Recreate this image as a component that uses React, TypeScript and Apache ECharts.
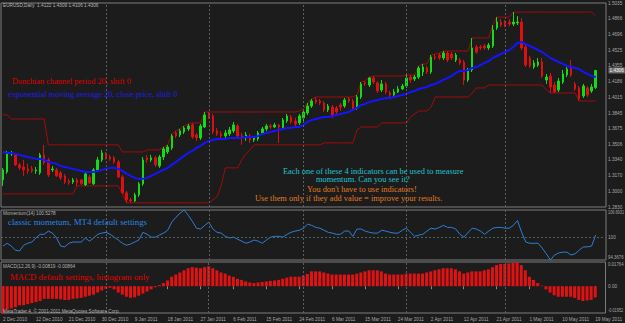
import React, { useEffect, useRef } from "react";
import * as echarts from "echarts";

const dateLabels = ["2 Dec 2010", "12 Dec 2010", "21 Dec 2010", "30 Dec 2010", "9 Jan 2011", "18 Jan 2011", "27 Jan 2011", "6 Feb 2011", "15 Feb 2011", "24 Feb 2011", "6 Mar 2011", "15 Mar 2011", "24 Mar 2011", "2 Apr 2011", "12 Apr 2011", "21 Apr 2011", "1 May 2011", "10 May 2011", "19 May 2011"];
const priceTicks = ["1.5035", "1.4866", "1.4696", "1.4525", "1.4355", "1.4186", "1.4015", "1.3845", "1.3675", "1.3506", "1.3340", "1.3170", "1.3000", "1.2830"];
const lastPrice = 1.4306;
const momentumTicks = ["106.6931", "100", "94.3676"];
const macdTicks = ["0.01764", "0.00", "-0.01952"];
const gridLineBars = [25, 50, 73, 98, 122];

// [open, close, low, high]
const candles: number[][] = [
  [1.3123, 1.3231, 1.3058, 1.3253], [1.3209, 1.3404, 1.3188, 1.3436], [1.3404, 1.3415, 1.3382, 1.3436], [1.3393, 1.3285, 1.3274, 1.3415],
  [1.3285, 1.3253, 1.3231, 1.3307], [1.3263, 1.3231, 1.3166, 1.3339], [1.3242, 1.3220, 1.3188, 1.3296], [1.3242, 1.3220, 1.3199, 1.3274],
  [1.3220, 1.3231, 1.3188, 1.3263], [1.3199, 1.3393, 1.3177, 1.3415], [1.3393, 1.3307, 1.3285, 1.3501], [1.3339, 1.3177, 1.3155, 1.3361],
  [1.3231, 1.3242, 1.3209, 1.3274], [1.3231, 1.3166, 1.3155, 1.3253], [1.3199, 1.3145, 1.3123, 1.3220], [1.3166, 1.3101, 1.3080, 1.3188],
  [1.3112, 1.3091, 1.3069, 1.3134], [1.3101, 1.3123, 1.3080, 1.3145], [1.3123, 1.3091, 1.3058, 1.3145], [1.3123, 1.3080, 1.3069, 1.3134],
  [1.3069, 1.3188, 1.3058, 1.3209], [1.3155, 1.3091, 1.3080, 1.3177], [1.3080, 1.3231, 1.3069, 1.3253], [1.3231, 1.3339, 1.3209, 1.3371],
  [1.3339, 1.3415, 1.3317, 1.3447], [1.3393, 1.3361, 1.3339, 1.3425], [1.3371, 1.3350, 1.3328, 1.3393], [1.3361, 1.3317, 1.3296, 1.3382],
  [1.3317, 1.3155, 1.3145, 1.3339], [1.3155, 1.2983, 1.2972, 1.3177], [1.2983, 1.2907, 1.2875, 1.3004], [1.2907, 1.2896, 1.2875, 1.2929],
  [1.2896, 1.2961, 1.2885, 1.2983], [1.2961, 1.3080, 1.2939, 1.3101], [1.3080, 1.3339, 1.3058, 1.3371], [1.3361, 1.3339, 1.3307, 1.3393],
  [1.3339, 1.3361, 1.3317, 1.3393], [1.3361, 1.3285, 1.3263, 1.3382], [1.3274, 1.3371, 1.3253, 1.3393], [1.3371, 1.3458, 1.3339, 1.3479],
  [1.3425, 1.3479, 1.3404, 1.3501], [1.3469, 1.3598, 1.3447, 1.3620], [1.3631, 1.3598, 1.3577, 1.3652], [1.3609, 1.3652, 1.3587, 1.3674],
  [1.3641, 1.3685, 1.3620, 1.3706], [1.3674, 1.3706, 1.3652, 1.3728], [1.3717, 1.3587, 1.3566, 1.3739], [1.3609, 1.3577, 1.3544, 1.3631],
  [1.3577, 1.3706, 1.3555, 1.3728], [1.3695, 1.3825, 1.3685, 1.3857], [1.3825, 1.3803, 1.3782, 1.3857], [1.3814, 1.3641, 1.3620, 1.3836],
  [1.3652, 1.3620, 1.3598, 1.3685], [1.3620, 1.3598, 1.3566, 1.3652], [1.3598, 1.3631, 1.3577, 1.3663], [1.3620, 1.3663, 1.3598, 1.3695],
  [1.3652, 1.3717, 1.3631, 1.3749], [1.3706, 1.3598, 1.3577, 1.3728], [1.3598, 1.3577, 1.3501, 1.3631], [1.3577, 1.3609, 1.3544, 1.3641],
  [1.3598, 1.3555, 1.3523, 1.3620], [1.3555, 1.3577, 1.3533, 1.3598], [1.3566, 1.3631, 1.3544, 1.3652], [1.3631, 1.3674, 1.3609, 1.3695],
  [1.3674, 1.3706, 1.3652, 1.3728], [1.3706, 1.3695, 1.3674, 1.3728], [1.3695, 1.3717, 1.3685, 1.3739], [1.3717, 1.3695, 1.3523, 1.3728],
  [1.3685, 1.3771, 1.3663, 1.3793], [1.3760, 1.3814, 1.3739, 1.3836], [1.3803, 1.3749, 1.3728, 1.3825], [1.3760, 1.3728, 1.3706, 1.3793],
  [1.3739, 1.3814, 1.3717, 1.3836], [1.3793, 1.3857, 1.3760, 1.3890], [1.3847, 1.3922, 1.3825, 1.3955], [1.3922, 1.3976, 1.3901, 1.3998],
  [1.3987, 1.3965, 1.3944, 1.4019], [1.3976, 1.3955, 1.3933, 1.3998], [1.3955, 1.3879, 1.3857, 1.3976], [1.3879, 1.3922, 1.3857, 1.3944],
  [1.3911, 1.3814, 1.3793, 1.3933], [1.3901, 1.3857, 1.3836, 1.3922], [1.3933, 1.3911, 1.3868, 1.3955], [1.3922, 1.3987, 1.3901, 1.4009],
  [1.3998, 1.3976, 1.3955, 1.4019], [1.3976, 1.3890, 1.3868, 1.3998], [1.3901, 1.4019, 1.3879, 1.4041], [1.4019, 1.4160, 1.3998, 1.4181],
  [1.4171, 1.4160, 1.4138, 1.4192], [1.4149, 1.4225, 1.4127, 1.4235], [1.4225, 1.4181, 1.4160, 1.4246], [1.4171, 1.4084, 1.4063, 1.4192],
  [1.4095, 1.4160, 1.4073, 1.4203], [1.4160, 1.4073, 1.4052, 1.4181], [1.4063, 1.4041, 1.4019, 1.4084], [1.4041, 1.4073, 1.4019, 1.4106],
  [1.4073, 1.4106, 1.4063, 1.4138], [1.4106, 1.4138, 1.4095, 1.4160], [1.4138, 1.4225, 1.4117, 1.4257], [1.4235, 1.4203, 1.4171, 1.4257],
  [1.4214, 1.4235, 1.4192, 1.4257], [1.4235, 1.4333, 1.4214, 1.4354], [1.4289, 1.4343, 1.4246, 1.4376], [1.4333, 1.4289, 1.4268, 1.4354],
  [1.4289, 1.4451, 1.4268, 1.4473], [1.4451, 1.4441, 1.4419, 1.4484], [1.4473, 1.4441, 1.4419, 1.4495], [1.4441, 1.4495, 1.4419, 1.4516],
  [1.4495, 1.4419, 1.4397, 1.4516], [1.4484, 1.4441, 1.4419, 1.4505], [1.4419, 1.4473, 1.4397, 1.4495], [1.4419, 1.4387, 1.4365, 1.4441],
  [1.4397, 1.4203, 1.4149, 1.4419], [1.4203, 1.4311, 1.4181, 1.4333], [1.4311, 1.4549, 1.4289, 1.4657], [1.4559, 1.4505, 1.4484, 1.4581],
  [1.4559, 1.4549, 1.4527, 1.4581], [1.4570, 1.4549, 1.4527, 1.4592], [1.4549, 1.4581, 1.4527, 1.4603], [1.4570, 1.4743, 1.4549, 1.4797],
  [1.4765, 1.4829, 1.4743, 1.4883], [1.4829, 1.4797, 1.4775, 1.4862], [1.4819, 1.4797, 1.4775, 1.4851], [1.4829, 1.4808, 1.4786, 1.4862],
  [1.4808, 1.4829, 1.4786, 1.4937], [1.4819, 1.4829, 1.4797, 1.4894], [1.4829, 1.4549, 1.4527, 1.4873], [1.4559, 1.4365, 1.4343, 1.4581],
  [1.4441, 1.4354, 1.4333, 1.4462], [1.4343, 1.4387, 1.4322, 1.4419], [1.4365, 1.4397, 1.4343, 1.4441], [1.4397, 1.4246, 1.4225, 1.4441],
  [1.4203, 1.4235, 1.4160, 1.4268], [1.4246, 1.4127, 1.4063, 1.4279], [1.4149, 1.4073, 1.4063, 1.4181], [1.4095, 1.4192, 1.4073, 1.4225],
  [1.4181, 1.4268, 1.4160, 1.4311], [1.4257, 1.4322, 1.4235, 1.4354], [1.4333, 1.4257, 1.4235, 1.4419], [1.4160, 1.4106, 1.4084, 1.4181],
  [1.4117, 1.3998, 1.3976, 1.4138], [1.4030, 1.4138, 1.4009, 1.4160], [1.4117, 1.4041, 1.4019, 1.4138], [1.4084, 1.4127, 1.4063, 1.4160],
  [1.4122, 1.4306, 1.4106, 1.4309],
];

const donchianUpper = [
  1.3825, 1.3825, 1.3782, 1.3782, 1.3782, 1.3782, 1.3782, 1.3782, 1.3782, 1.3782,
  1.3782, 1.3501, 1.3501, 1.3501, 1.3501, 1.3501, 1.3501, 1.3501, 1.3501, 1.3501,
  1.3501, 1.3501, 1.3501, 1.3501, 1.3501, 1.3501, 1.3501, 1.3501, 1.3501, 1.3425,
  1.3425, 1.3425, 1.3425, 1.3425, 1.3425, 1.3447, 1.3447, 1.3447, 1.3447, 1.3479,
  1.3501, 1.3620, 1.3652, 1.3674, 1.3706, 1.3728, 1.3739, 1.3739, 1.3739, 1.3857,
  1.3857, 1.3857, 1.3857, 1.3857, 1.3857, 1.3857, 1.3857, 1.3857, 1.3857, 1.3857,
  1.3857, 1.3857, 1.3857, 1.3857, 1.3857, 1.3857, 1.3857, 1.3857, 1.3857, 1.3857,
  1.3857, 1.3857, 1.3868, 1.3890, 1.3955, 1.3998, 1.4019, 1.4019, 1.4019, 1.4019,
  1.4019, 1.4019, 1.4019, 1.4019, 1.4019, 1.4019, 1.4041, 1.4181, 1.4192, 1.4235,
  1.4246, 1.4246, 1.4246, 1.4246, 1.4246, 1.4246, 1.4246, 1.4246, 1.4257, 1.4257,
  1.4257, 1.4354, 1.4376, 1.4376, 1.4473, 1.4484, 1.4495, 1.4516, 1.4516, 1.4516,
  1.4516, 1.4516, 1.4516, 1.4516, 1.4657, 1.4657, 1.4657, 1.4657, 1.4657, 1.4797,
  1.4883, 1.4883, 1.4883, 1.4883, 1.4937, 1.4937, 1.4937, 1.4937, 1.4937, 1.4937,
  1.4937, 1.4937, 1.4937, 1.4937, 1.4937, 1.4937, 1.4937, 1.4937, 1.4937, 1.4937,
  1.4937, 1.4937, 1.4937, 1.4937, 1.4894,
];

const donchianLower = [
  1.2972, 1.2972, 1.2972, 1.2972, 1.2972, 1.2972, 1.2972, 1.2972, 1.2972, 1.2972,
  1.2972, 1.2972, 1.2972, 1.2972, 1.2972, 1.2972, 1.2972, 1.2972, 1.3058, 1.3058,
  1.3058, 1.3058, 1.3058, 1.3058, 1.3058, 1.3058, 1.3058, 1.3058, 1.3058, 1.2972,
  1.2875, 1.2875, 1.2875, 1.2875, 1.2875, 1.2875, 1.2875, 1.2875, 1.2875, 1.2875,
  1.2875, 1.2875, 1.2875, 1.2875, 1.2875, 1.2875, 1.2875, 1.2875, 1.2875, 1.2875,
  1.2875, 1.2907, 1.2939, 1.3058, 1.3253, 1.3253, 1.3253, 1.3253, 1.3339, 1.3404,
  1.3447, 1.3501, 1.3501, 1.3501, 1.3501, 1.3501, 1.3501, 1.3501, 1.3501, 1.3501,
  1.3501, 1.3501, 1.3501, 1.3501, 1.3501, 1.3501, 1.3501, 1.3501, 1.3523, 1.3523,
  1.3523, 1.3523, 1.3523, 1.3523, 1.3523, 1.3523, 1.3663, 1.3695, 1.3695, 1.3695,
  1.3695, 1.3695, 1.3739, 1.3739, 1.3739, 1.3739, 1.3739, 1.3739, 1.3739, 1.3803,
  1.3836, 1.3868, 1.3868, 1.3868, 1.3911, 1.4019, 1.4019, 1.4019, 1.4019, 1.4019,
  1.4019, 1.4019, 1.4019, 1.4019, 1.4063, 1.4117, 1.4117, 1.4117, 1.4149, 1.4149,
  1.4149, 1.4149, 1.4149, 1.4149, 1.4149, 1.4149, 1.4149, 1.4149, 1.4149, 1.4149,
  1.4149, 1.4149, 1.4095, 1.4063, 1.4063, 1.4063, 1.4063, 1.4063, 1.4063, 1.4063,
  1.3976, 1.3976, 1.3976, 1.3976, 1.3976,
];

const ema20 = [
  1.3425, 1.3415, 1.3415, 1.3404, 1.3393, 1.3382, 1.3371, 1.3361, 1.3350, 1.3350,
  1.3339, 1.3317, 1.3307, 1.3296, 1.3274, 1.3263, 1.3253, 1.3242, 1.3231, 1.3220,
  1.3209, 1.3209, 1.3209, 1.3220, 1.3231, 1.3242, 1.3253, 1.3253, 1.3242, 1.3220,
  1.3188, 1.3166, 1.3145, 1.3134, 1.3134, 1.3145, 1.3166, 1.3188, 1.3209, 1.3231,
  1.3253, 1.3285, 1.3317, 1.3350, 1.3382, 1.3415, 1.3436, 1.3469, 1.3490, 1.3523,
  1.3544, 1.3555, 1.3566, 1.3566, 1.3566, 1.3577, 1.3577, 1.3577, 1.3577, 1.3587,
  1.3587, 1.3587, 1.3598, 1.3620, 1.3631, 1.3641, 1.3652, 1.3663, 1.3674, 1.3685,
  1.3685, 1.3695, 1.3695, 1.3717, 1.3749, 1.3771, 1.3782, 1.3793, 1.3803, 1.3803,
  1.3814, 1.3825, 1.3836, 1.3847, 1.3857, 1.3879, 1.3901, 1.3933, 1.3944, 1.3965,
  1.3976, 1.3987, 1.3998, 1.4009, 1.4009, 1.4019, 1.4030, 1.4041, 1.4052, 1.4073,
  1.4084, 1.4106, 1.4117, 1.4127, 1.4149, 1.4160, 1.4181, 1.4203, 1.4225, 1.4246,
  1.4279, 1.4300, 1.4300, 1.4311, 1.4333, 1.4343, 1.4365, 1.4387, 1.4408, 1.4441,
  1.4462, 1.4484, 1.4505, 1.4527, 1.4559, 1.4603, 1.4613, 1.4592, 1.4570, 1.4549,
  1.4527, 1.4505, 1.4473, 1.4441, 1.4419, 1.4397, 1.4376, 1.4354, 1.4343, 1.4333,
  1.4322, 1.4289, 1.4268, 1.4246, 1.4235,
];

const momentum14 = [
  97.8, 98.5, 97.8, 96.8, 96.6, 98.0, 98.5, 98.8, 99.8, 100.7,
  100.7, 101.5, 101.0, 99.8, 97.8, 97.6, 98.5, 98.8, 98.8, 98.8,
  99.8, 99.0, 99.8, 100.7, 101.0, 101.2, 100.7, 100.0, 99.3, 98.5,
  98.0, 98.3, 98.8, 99.3, 101.2, 100.7, 100.0, 100.0, 100.5, 101.0,
  101.7, 103.7, 104.9, 105.9, 106.6931, 105.4, 103.9, 102.2, 102.0, 102.9,
  103.7, 102.0, 101.2, 101.0, 100.2, 99.8, 100.0, 99.5, 99.0, 98.5,
  98.8, 99.3, 99.0, 98.5, 99.3, 100.0, 100.2, 100.2, 100.0, 100.7,
  101.2, 101.5, 101.7, 102.2, 103.2, 102.9, 102.4, 102.2, 101.7, 101.2,
  101.0, 100.7, 100.7, 101.5, 101.5, 100.2, 102.0, 102.0, 101.5, 101.2,
  101.0, 101.0, 101.7, 101.5, 101.2, 101.0, 101.0, 101.7, 102.2, 101.2,
  100.2, 100.5, 100.7, 101.5, 102.2, 102.0, 102.4, 102.9, 102.4, 102.4,
  102.0, 100.7, 100.0, 101.2, 102.2, 102.0, 101.5, 100.7, 101.5, 102.2,
  102.4, 102.4, 102.2, 102.2, 102.9, 104.1, 101.2, 98.8, 98.5, 98.5,
  98.5, 97.3, 95.9, 94.3676, 95.6, 96.1, 96.3, 96.3, 95.6, 95.9,
  96.8, 97.6, 97.6, 97.8, 100.5278,
];

const macdHist = [
  -0.01952, -0.0170, -0.0162, -0.0154, -0.0139, -0.0139, -0.0131, -0.0123, -0.0116, -0.0108,
  -0.0092, -0.0092, -0.0092, -0.0092, -0.0096, -0.0100, -0.0100, -0.0092, -0.0089, -0.0085,
  -0.0077, -0.0069, -0.0062, -0.0046, -0.0031, -0.0019, -0.0012, -0.0023, -0.0046, -0.0062,
  -0.0077, -0.0085, -0.0081, -0.0069, -0.0054, -0.0039, -0.0023, -0.0008, 0.0008, 0.0023,
  0.0042, 0.0069, 0.0085, 0.0100, 0.0116, 0.0131, 0.0139, 0.0135, 0.0131, 0.0139,
  0.0146, 0.0131, 0.0116, 0.0100, 0.0092, 0.0077, 0.0069, 0.0054, 0.0046, 0.0035,
  0.0027, 0.0023, 0.0027, 0.0031, 0.0035, 0.0039, 0.0042, 0.0046, 0.0054, 0.0062,
  0.0069, 0.0069, 0.0069, 0.0077, 0.0089, 0.0108, 0.0108, 0.0108, 0.0100, 0.0092,
  0.0085, 0.0085, 0.0085, 0.0085, 0.0085, 0.0085, 0.0092, 0.0100, 0.0108, 0.0116,
  0.0116, 0.0116, 0.0108, 0.0092, 0.0085, 0.0085, 0.0085, 0.0085, 0.0092, 0.0092,
  0.0092, 0.0092, 0.0092, 0.0100, 0.0108, 0.0116, 0.0123, 0.0131, 0.0131, 0.0131,
  0.0123, 0.0108, 0.0092, 0.0100, 0.0108, 0.0108, 0.0108, 0.0116, 0.0123, 0.0139,
  0.0154, 0.0162, 0.0162, 0.0166, 0.0170, 0.01764, 0.0154, 0.0116, 0.0069, 0.0046,
  0.0023, 0.0004, -0.0023, -0.0046, -0.0066, -0.0077, -0.0077, -0.0077, -0.0077, -0.0085,
  -0.0100, -0.0108, -0.0104, -0.0100, -0.0082,
];

const SANS = '"Liberation Sans", Arial, sans-serif';
const SERIF = '"Liberation Serif", "Times New Roman", serif';
const AXIS_TXT = "#a6a6a6";
const FRAME = "#7c7c7c";
const BULL = "#14dc14";
const BEAR = "#dc1010";
const SMALL = 4.7;
const LABEL_X = 608.5;

const categories = Array.from({ length: candles.length + 2 }, (_, i) =>
  i % 8 === 0 && i / 8 < dateLabels.length ? dateLabels[i / 8] : `_${i}`
);

const vLineItems = () =>
  gridLineBars.map((i) => ({
    xAxis: categories[i],
    label: { show: false },
    lineStyle: { color: "#5e5e5e", type: [2, 2], width: 1 },
  }));

const txt = (x: number, y: number, text: string, fill: string, size: number, family: string, extra: any = {}, scaleX = 1) => ({
  type: "text",
  x,
  y,
  scaleX,
  silent: true,
  z: 20,
  style: { text, fill, fontSize: size, fontFamily: family, verticalAlign: "middle", align: "left", ...extra },
});

const staticTexts = [
  txt(3, 5.5, "EURUSD,Daily  1.4122 1.4309 1.4106 1.4306", "#b4b4b4", SMALL, SANS),
  txt(12, 81, "Donchian channel period 20, shift 0", "#dd0000", 8.3, SERIF),
  txt(8, 94, "exponential moving average 20, close price, shift 0", "#1c1cf0", 8.3, SERIF),
  txt(283, 171, "Each one of these 4 indicators can be used to measure", "#1fc4cf", 8.4, SERIF),
  txt(316, 179.5, "momentum. Can you see it?", "#1fc4cf", 8.4, SERIF),
  txt(307, 189, "You don't have to use indicators!", "#e07b1c", 8.4, SERIF),
  txt(255, 198, "Use them only if they add value = improve your results.", "#e07b1c", 8.4, SERIF),
  txt(3, 213, "Momentum(14) 100.5278", "#b4b4b4", SMALL, SANS),
  txt(8, 222, "classic mometum, MT4 default settings", "#2a86e6", 8.8, SERIF),
  txt(3, 266, "MACD(12,26,9) -0.00819 -0.00864", "#b4b4b4", SMALL, SANS),
  txt(10, 277, "MACD default settings, histogram only", "#e00000", 8.8, SERIF),
  txt(3, 311, "MetaTrader 4, \u00a9 2001-2011 MetaQuotes Software Corp.", "#b4b4b4", SMALL, SANS),
];

function buildOption(): any {
  const grids = [
    { left: 1, right: 19, top: 3, height: 204 },
    { left: 1, right: 19, top: 210, height: 50 },
    { left: 1, right: 19, top: 262, height: 51 },
  ].map((g) => ({ ...g, show: true, borderColor: FRAME, borderWidth: 1, backgroundColor: "transparent" }));

  const xAxisBase = { type: "category", data: categories, boundaryGap: true };

  return {
    animation: false,
    backgroundColor: "#1c1c1c",
    grid: grids,
    xAxis: [
      { ...xAxisBase, gridIndex: 0, show: false },
      { ...xAxisBase, gridIndex: 1, show: false },
      {
        ...xAxisBase,
        gridIndex: 2,
        axisLine: { show: false },
        axisTick: { show: true, interval: 7, length: 3, alignWithLabel: true, lineStyle: { color: "#8a8a8a" } },
        splitLine: { show: false },
        axisLabel: {
          interval: 7,
          align: "left",
          margin: 4,
          color: AXIS_TXT,
          fontSize: SMALL,
          fontFamily: SANS,
          formatter: (v: string) => (v.startsWith("_") ? "" : v),
        },
      },
    ],
    yAxis: [
      { gridIndex: 0, type: "value", min: 1.283, max: 1.5035, show: false },
      { gridIndex: 1, type: "value", min: 94.3676, max: 106.6931, show: false },
      { gridIndex: 2, type: "value", min: -0.01952, max: 0.01764, show: false },
    ],
    graphic: staticTexts,
    series: [
      {
        type: "line",
        name: "DonchianUpper",
        xAxisIndex: 0,
        yAxisIndex: 0,
        data: donchianUpper,
        symbol: "none",
        showSymbol: false,
        lineStyle: { color: "#a00c0c", width: 1 },
        z: 2,
        silent: true,
        markLine: { silent: true, symbol: "none", animation: false, data: vLineItems() },
      },
      {
        type: "line",
        name: "DonchianLower",
        xAxisIndex: 0,
        yAxisIndex: 0,
        data: donchianLower,
        symbol: "none",
        showSymbol: false,
        lineStyle: { color: "#a00c0c", width: 1 },
        z: 2,
        silent: true,
      },
      {
        type: "candlestick",
        name: "EURUSD",
        xAxisIndex: 0,
        yAxisIndex: 0,
        data: candles,
        barWidth: 2,
        z: 3,
        silent: true,
        itemStyle: { color: BULL, color0: BEAR, borderColor: BULL, borderColor0: BEAR, borderWidth: 1 },
      },
      {
        type: "line",
        name: "EMA20",
        xAxisIndex: 0,
        yAxisIndex: 0,
        data: ema20,
        symbol: "none",
        showSymbol: false,
        lineStyle: { color: "#1414ff", width: 2 },
        z: 4,
        silent: true,
      },
      {
        type: "line",
        name: "Momentum",
        xAxisIndex: 1,
        yAxisIndex: 1,
        data: momentum14,
        symbol: "none",
        showSymbol: false,
        lineStyle: { color: "#2d7fd8", width: 1 },
        z: 3,
        silent: true,
        markLine: {
          silent: true,
          symbol: "none",
          animation: false,
          data: [
            ...vLineItems(),
            { yAxis: Number(momentumTicks[1]), label: { show: false }, lineStyle: { color: "#4a6464", type: [2, 2], width: 1 } },
          ],
        },
      },
      {
        type: "bar",
        name: "MACD",
        xAxisIndex: 2,
        yAxisIndex: 2,
        data: macdHist,
        barWidth: 3,
        itemStyle: { color: "#e01212" },
        z: 3,
        silent: true,
        markLine: { silent: true, symbol: "none", animation: false, data: vLineItems() },
      },
    ],
  };
}

// axis labels placed through the chart's own y scales; long ones are narrowed to fit the strip
function buildAxisLabels(chart: any) {
  const y = (axis: number, v: number) => chart.convertToPixel({ yAxisIndex: axis }, v) as number;
  const fit = (t: string) => (t.length > 7 ? 0.82 : t.length > 6 ? 0.92 : 1);
  const lab = (axis: number, t: string, extra: any = {}) =>
    txt(LABEL_X - 0.5, y(axis, Number(t)), t, AXIS_TXT, SMALL, SANS, extra, fit(t));
  const out: any[] = [];
  priceTicks.forEach((t) => out.push(lab(0, t)));
  out.push(
    txt(LABEL_X, y(0, lastPrice), lastPrice.toFixed(4), "#f4f4f4", SMALL, SANS, {
      backgroundColor: "#707070",
      padding: [0.5, 1],
    })
  );
  out.push(lab(1, momentumTicks[0], { verticalAlign: "top" }));
  out.push(lab(1, momentumTicks[1]));
  out.push(lab(1, momentumTicks[2], { verticalAlign: "bottom" }));
  out.push(lab(2, macdTicks[0], { verticalAlign: "top" }));
  out.push(lab(2, macdTicks[1]));
  out.push(lab(2, macdTicks[2], { verticalAlign: "bottom" }));
  return out;
}

export default function App() {
  const ref = useRef<HTMLDivElement>(null);
  useEffect(() => {
    if (!ref.current) return;
    const chart = echarts.init(ref.current, null, { renderer: "svg" });
    chart.setOption(buildOption());
    chart.setOption({ graphic: [...staticTexts, ...buildAxisLabels(chart)] });
    return () => chart.dispose();
  }, []);
  return <div ref={ref} style={{ position: "fixed", left: 0, top: 0, width: 625, height: 323 }} />;
}
